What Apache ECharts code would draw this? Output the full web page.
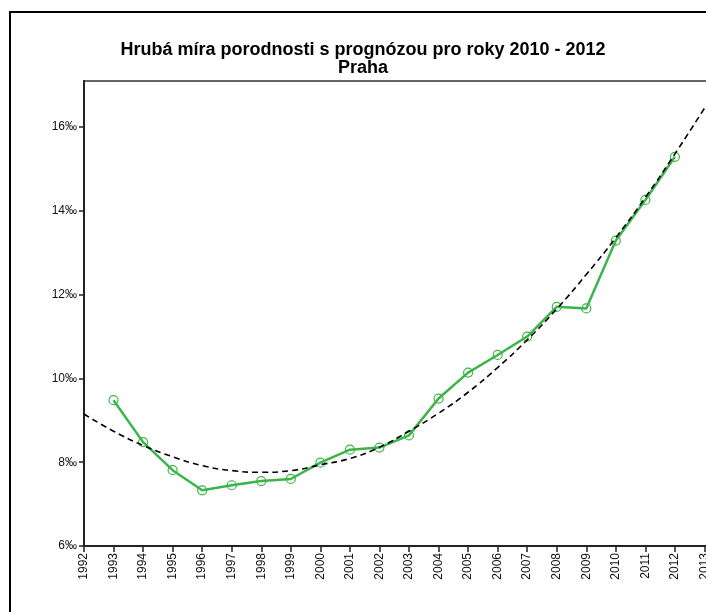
<!DOCTYPE html>
<html>
<head>
<meta charset="utf-8">
<script src="https://cdn.jsdelivr.net/npm/echarts@6/dist/echarts.min.js"></script>
<style>
  html, body { margin: 0; padding: 0; background: #fff; }
  #chart { width: 706px; height: 612px; }
</style>
</head>
<body>
<div id="chart"></div>
<script>
// Crude birth rate, Prague (per mille)
const years = [1993, 1994, 1995, 1996, 1997, 1998, 1999, 2000, 2001, 2002,
               2003, 2004, 2005, 2006, 2007, 2008, 2009, 2010, 2011, 2012];
const birthRate = [9.48, 8.48, 7.81, 7.33, 7.45, 7.55, 7.60, 7.99, 8.30, 8.35,
                   8.64, 9.52, 10.14, 10.56, 11.00, 11.71, 11.67, 13.29, 14.26, 15.29];

// Fitted trend curve
const trendYears = [1992, 1993, 1994, 1995, 1996, 1997, 1998, 1999, 2000, 2001, 2002,
                    2003, 2004, 2005, 2006, 2007, 2008, 2009, 2010, 2011, 2012, 2013];
const trendRate = [9.15, 8.74, 8.40, 8.13, 7.92, 7.80, 7.76, 7.80, 7.94, 8.09, 8.36,
                   8.74, 9.17, 9.67, 10.26, 10.92, 11.66, 12.48, 13.36, 14.32, 15.36, 16.45];

const yTicks = [6, 8, 10, 12, 14, 16];
const titleText = 'Hrubá míra porodnosti s prognózou pro roky 2010 - 2012';
const subtitleText = 'Praha';

const FONT = '"Liberation Sans", Arial, sans-serif';
const GREEN = '#3bb54a';

const chart = echarts.init(document.getElementById('chart'), null, { renderer: 'canvas' });

chart.setOption({
  animation: false,
  backgroundColor: '#fff',
  title: {
    text: titleText + '\n' + subtitleText,
    left: 358,
    top: 36,
    textAlign: 'center',
    textStyle: {
      fontFamily: FONT,
      fontWeight: 'bold',
      fontSize: 18,
      lineHeight: 18,
      color: '#000'
    }
  },
  graphic: [{
    type: 'rect',
    shape: { x: 10, y: 12, width: 760, height: 700 },
    style: { fill: 'none', stroke: '#000', lineWidth: 2 },
    z: -10
  }],
  grid: {
    left: 84,
    top: 81,
    width: 650,
    height: 465,
    outerBoundsMode: 'none',
    containLabel: false,
    show: true,
    borderColor: '#333',
    borderWidth: 1.5,
    backgroundColor: 'transparent'
  },
  xAxis: {
    type: 'value',
    min: 1992,
    max: 2014,
    interval: 1,
    splitLine: { show: false },
    axisLine: { onZero: false, lineStyle: { color: '#222', width: 2 } },
    axisTick: { show: true, length: 6, lineStyle: { color: '#222', width: 1.5 } },
    axisLabel: {
      rotate: 90,
      margin: 7,
      fontFamily: FONT,
      fontSize: 12,
      color: '#111',
      showMaxLabel: false,
      formatter: v => String(v)
    }
  },
  yAxis: {
    type: 'value',
    min: 6,
    max: 17.1,
    splitLine: { show: false },
    axisLine: { lineStyle: { color: '#222', width: 2 } },
    axisTick: { show: true, length: 5, lineStyle: { color: '#222', width: 1.5 }, customValues: yTicks },
    axisLabel: {
      margin: 7,
      fontFamily: FONT,
      fontSize: 12,
      color: '#111',
      customValues: yTicks,
      formatter: v => v + '‰'
    }
  },
  series: [
    {
      name: 'Hrubá míra porodnosti',
      type: 'line',
      data: years.map((y, i) => [y, birthRate[i]]),
      lineStyle: { color: GREEN, width: 2.5 },
      symbol: 'circle',
      symbolSize: 9,
      itemStyle: { color: 'rgba(255,255,255,0)', borderColor: GREEN, borderWidth: 1.2 },
      z: 2
    },
    {
      name: 'Trend',
      type: 'line',
      data: trendYears.map((y, i) => [y, trendRate[i]]),
      smooth: true,
      symbol: 'none',
      lineStyle: { color: '#000', width: 1.6, type: [6, 4] },
      z: 3
    }
  ]
});
</script>
</body>
</html>
